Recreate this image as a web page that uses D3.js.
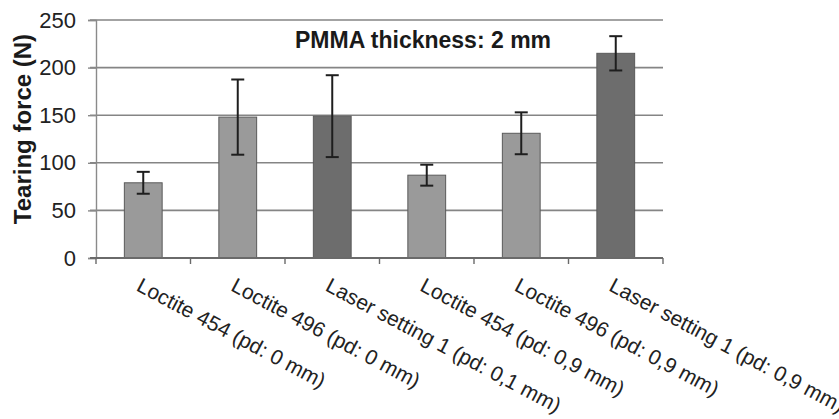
<!DOCTYPE html>
<html>
<head>
<meta charset="utf-8">
<script src="https://cdn.jsdelivr.net/npm/d3@7"></script>
<style>
  html, body { margin: 0; padding: 0; background: #fff; }
  svg { display: block; font-family: "Liberation Sans", Arial, sans-serif; }
</style>
</head>
<body>
<svg id="chart" width="839" height="419"></svg>
<script>
// ---- data ----
const categories = [
  "Loctite 454 (pd: 0 mm)",
  "Loctite 496 (pd: 0 mm)",
  "Laser setting 1 (pd: 0,1 mm)",
  "Loctite 454 (pd: 0,9 mm)",
  "Loctite 496 (pd: 0,9 mm)",
  "Laser setting 1 (pd: 0,9 mm)"
];
const methods = ["adhesive", "adhesive", "laser", "adhesive", "adhesive", "laser"];
const meanForce = [79, 148, 149, 87, 131, 215];
const errorForce = [11.5, 39.5, 43, 11, 22, 18];
const yTicks = [0, 50, 100, 150, 200, 250];
const titleText = "PMMA thickness: 2 mm";
const yLabel = "Tearing force (N)";

// ---- layout ----
const svg = d3.select("#chart");
const mLeft = 96, mRight = 663, mTop = 20, mBottom = 258;

const x = d3.scaleBand().domain(categories).range([mLeft, mRight]).paddingInner(0.6).paddingOuter(0.3);
const xEdge = d3.scaleBand().domain(categories).range([mLeft, mRight]).padding(0);
const y = d3.scaleLinear().domain([0, 250]).range([mBottom, mTop]);
const color = d3.scaleOrdinal().domain(["adhesive", "laser"]).range(["#9a9a9a", "#6d6d6d"]);

// gridlines
svg.append("g")
  .selectAll("line")
  .data(yTicks.filter(d => d > 0))
  .join("line")
  .attr("x1", mLeft - 6).attr("x2", mRight)
  .attr("y1", d => y(d)).attr("y2", d => y(d))
  .attr("stroke", "#858585").attr("stroke-width", 1.6);

// y axis
const yAxis = svg.append("g")
  .attr("transform", `translate(${mLeft},0)`)
  .call(d3.axisLeft(y).tickValues(yTicks).tickSize(8).tickPadding(12));
yAxis.select(".domain").attr("stroke", "#8a8a8a").attr("stroke-width", 1.4);
yAxis.selectAll(".tick line").attr("stroke", "#8a8a8a").attr("stroke-width", 1.4);
yAxis.selectAll(".tick text")
  .attr("font-size", 22).attr("fill", "#222")
  .attr("font-family", "Liberation Sans, Arial, sans-serif");

// bars
const idx = d3.range(categories.length);
svg.append("g")
  .selectAll("rect")
  .data(idx)
  .join("rect")
  .attr("x", i => x(categories[i]))
  .attr("width", x.bandwidth())
  .attr("y", i => y(meanForce[i]))
  .attr("height", i => y(0) - y(meanForce[i]))
  .attr("fill", i => color(methods[i]))
  .attr("stroke", "#5a5a5a").attr("stroke-width", 1);

// x axis
const xAxis = svg.append("g")
  .attr("transform", `translate(0,${mBottom})`);
xAxis.append("line")
  .attr("x1", mLeft - 6).attr("x2", mRight)
  .attr("y1", 0).attr("y2", 0)
  .attr("stroke", "#6a6a6a").attr("stroke-width", 1.8);
const edges = categories.map(c => xEdge(c)).concat([mRight]);
xAxis.selectAll("line.tk")
  .data(edges)
  .join("line")
  .attr("class", "tk")
  .attr("x1", d => d).attr("x2", d => d)
  .attr("y1", 0).attr("y2", 6)
  .attr("stroke", "#6a6a6a").attr("stroke-width", 1.4);

// category labels
svg.append("g")
  .selectAll("text")
  .data(categories)
  .join("text")
  .attr("transform", d => `translate(${x(d) + x.bandwidth() / 2 - 8},290) rotate(28)`)
  .attr("text-anchor", "start")
  .attr("font-size", 21)
  .attr("fill", "#222")
  .text(d => d);

// error bars
const eb = svg.append("g").attr("stroke", "#1e1e1e").attr("stroke-width", 2);
idx.forEach(i => {
  const cx = x(categories[i]) + x.bandwidth() / 2;
  const hi = y(meanForce[i] + errorForce[i]);
  const lo = y(meanForce[i] - errorForce[i]);
  eb.append("line").attr("x1", cx).attr("x2", cx).attr("y1", hi).attr("y2", lo);
  eb.append("line").attr("x1", cx - 6.5).attr("x2", cx + 6.5).attr("y1", hi).attr("y2", hi);
  eb.append("line").attr("x1", cx - 6.5).attr("x2", cx + 6.5).attr("y1", lo).attr("y2", lo);
});

// title
svg.append("text")
  .attr("x", 295).attr("y", 48)
  .attr("font-size", 23).attr("font-weight", "bold").attr("fill", "#1a1a1a")
  .text(titleText);

// y label
svg.append("text")
  .attr("transform", "translate(31,129) rotate(-90)")
  .attr("text-anchor", "middle")
  .attr("font-size", 24).attr("font-weight", "bold").attr("fill", "#1a1a1a")
  .text(yLabel);
</script>
</body>
</html>
